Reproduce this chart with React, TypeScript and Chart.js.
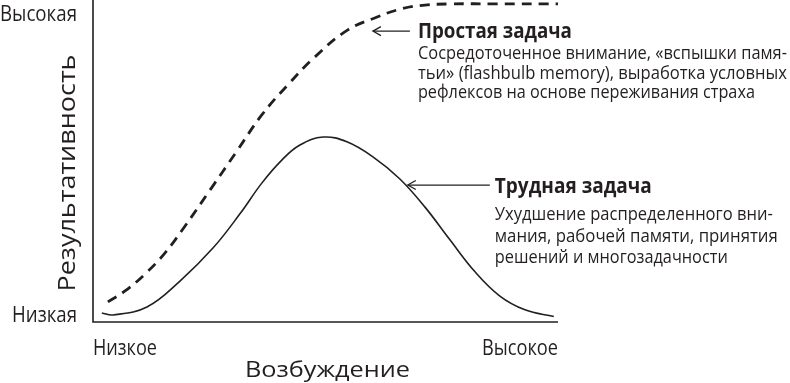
import React, { useEffect, useRef } from 'react';
import { Chart, registerables } from 'chart.js';

Chart.register(...registerables);

// Hard task (solid) curve: arousal (0-100) vs performance (0-100)
const hardX = [1.9, 4.3, 11.6, 18.7, 25.8, 31.6, 36.3, 40.6, 44.5, 49.5, 54.6, 60.2, 66.0, 71.4, 76.8, 82.2, 87.5, 92.9, 99.1];
const hardY = [2.8, 2.2, 4.7, 12.8, 23.1, 33.8, 43.4, 50.6, 55.3, 57.8, 56.3, 51.6, 44.7, 35.9, 25.6, 15.6, 8.1, 3.8, 1.7];

// Simple task (dashed) curve
const easyX = [3.2, 6.9, 11.2, 15.5, 19.8, 25.2, 30.8, 36.3, 41.9, 47.7, 54.8, 61.1, 65.4, 70.3, 76.8, 87.1, 100];
const easyY = [6.3, 9.7, 15.0, 21.6, 30.0, 41.3, 53.1, 64.7, 74.1, 82.8, 91.3, 95.3, 97.5, 98.9, 99.4, 99.4, 99.4];

// Axis labels
const yTickLabels = ['Низкая', 'Высокая'];
const xTickLabels = ['Низкое', 'Высокое'];
const yTitle = 'Результативность';
const xTitle = 'Возбуждение';

// Annotations
const easyTitle = 'Простая задача';
const easyLines = [
  'Сосредоточенное внимание, «вспышки памя-',
  'тьи» (flashbulb memory), выработка условных',
  'рефлексов на основе переживания страха',
];
const hardTitle = 'Трудная задача';
const hardLines = [
  'Ухудшение распределенного вни-',
  'мания, рабочей памяти, принятия',
  'решений и многозадачности',
];

const INK = '#231f20';
const FONT = '"Open Sans", "Noto Sans", sans-serif';

const toPoints = (xs: number[], ys: number[]) => xs.map((x, i) => ({ x, y: ys[i] }));

// draw text squeezed horizontally to a given width (the reference uses a condensed face)
const fitText = (ctx: CanvasRenderingContext2D, text: string, x: number, y: number, width: number, align: 'left' | 'right' | 'center') => {
  const w = ctx.measureText(text).width;
  const k = width / w;
  ctx.save();
  ctx.textAlign = 'left';
  let left = x;
  if (align === 'right') left = x - width;
  if (align === 'center') left = x - width / 2;
  ctx.translate(left, y);
  ctx.scale(k, 1);
  ctx.fillText(text, 0, 0);
  ctx.restore();
};

const annotationPlugin = {
  id: 'yerkesDodson',
  afterDraw(chart: any) {
    const { ctx, chartArea, scales } = chart;
    const xs = scales.x;
    const ys = scales.y;
    const L = chartArea.left;
    const R = chartArea.right;
    const B = chartArea.bottom;
    ctx.save();
    ctx.strokeStyle = INK;
    ctx.fillStyle = INK;
    ctx.textBaseline = 'alphabetic';

    // axes
    ctx.lineWidth = 1.6;
    ctx.beginPath();
    ctx.moveTo(L, 0);
    ctx.lineTo(L, B);
    ctx.lineTo(R, B);
    ctx.stroke();

    // y tick labels
    ctx.font = `21px ${FONT}`;
    fitText(ctx, yTickLabels[0], L - 16, B, 65, 'right');
    fitText(ctx, yTickLabels[1], L - 16, 21, 77, 'right');

    // x tick labels
    fitText(ctx, xTickLabels[0], L, B + 33, 64, 'left');
    fitText(ctx, xTickLabels[1], R, B + 33, 76, 'right');

    // axis titles
    ctx.font = `22px ${FONT}`;
    fitText(ctx, xTitle, (L + R) / 2 + 2, B + 55, 165, 'center');
    ctx.save();
    ctx.translate(L - 18, 173);
    ctx.rotate(-Math.PI / 2);
    ctx.font = `23px ${FONT}`;
    fitText(ctx, yTitle, 0, 0, 237, 'center');
    ctx.restore();

    // arrows
    const arrow = (tipX: number, tipY: number, len: number) => {
      ctx.lineWidth = 1.3;
      ctx.beginPath();
      ctx.moveTo(tipX + len, tipY);
      ctx.lineTo(tipX, tipY);
      ctx.stroke();
      ctx.beginPath();
      ctx.moveTo(tipX + 8, tipY - 4.5);
      ctx.lineTo(tipX, tipY);
      ctx.lineTo(tipX + 8, tipY + 4.5);
      ctx.stroke();
    };
    const a1x = xs.getPixelForValue(60.2);
    const a1y = ys.getPixelForValue(90.9);
    arrow(a1x, a1y, 37);
    const a2x = xs.getPixelForValue(67.7);
    const a2y = ys.getPixelForValue(42.8);
    arrow(a2x, a2y, 82);

    // annotation text blocks
    ctx.font = `bold 21px ${FONT}`;
    fitText(ctx, easyTitle, a1x + 45, a1y + 7, 154, 'left');
    fitText(ctx, hardTitle, a2x + 87, a2y + 8, 157, 'left');
    ctx.font = `18px ${FONT}`;
    const easyW = [369, 369, 337];
    easyLines.forEach((t, i) => fitText(ctx, t, a1x + 45, a1y + 28 + i * 19.5, easyW[i], 'left'));
    const hardW = [278, 283, 233];
    hardLines.forEach((t, i) => fitText(ctx, t, a2x + 87, a2y + 35 + i * 21.5, hardW[i], 'left'));

    ctx.restore();
  },
};

export default function App() {
  const ref = useRef<HTMLCanvasElement | null>(null);
  useEffect(() => {
    document.body.style.margin = '0';
    document.body.style.background = '#ffffff';
    const canvas = ref.current;
    if (!canvas) return;
    const chart = new Chart(canvas, {
      type: 'line',
      data: {
        datasets: [
          {
            label: 'Трудная задача',
            data: toPoints(hardX, hardY),
            borderColor: INK,
            borderWidth: 1.6,
            pointRadius: 0,
            tension: 0.4,
            fill: false,
          },
          {
            label: 'Простая задача',
            data: toPoints(easyX, easyY),
            borderColor: INK,
            borderWidth: 2.8,
            borderDash: [10, 7],
            pointRadius: 0,
            tension: 0.4,
            fill: false,
          },
        ],
      },
      options: {
        animation: false,
        responsive: false,
        events: [],
        layout: { padding: { left: 93, right: 232, top: 2, bottom: 61 } },
        plugins: { legend: { display: false }, tooltip: { enabled: false } },
        scales: {
          x: { type: 'linear', min: 0, max: 100, display: false },
          y: { type: 'linear', min: 0, max: 100, display: false },
        },
      },
      plugins: [annotationPlugin],
    });
    return () => chart.destroy();
  }, []);
  return (
    <div style={{ width: 790, height: 383, background: '#fff' }}>
      <canvas ref={ref} width={790} height={383} style={{ display: 'block' }} />
    </div>
  );
}
